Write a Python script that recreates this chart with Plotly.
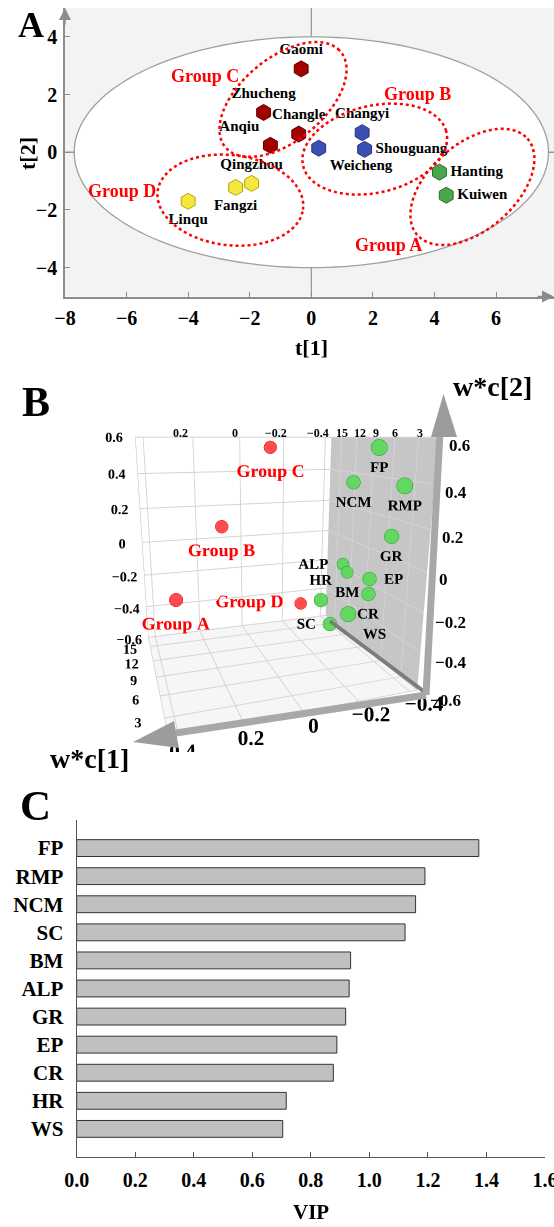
import numpy as np
import plotly.graph_objects as go

FONT = "Liberation Serif"
W, H = 554, 1227

# ---------------- Panel A data (PLS-DA scores) ----------------
sites = ["Gaomi", "Zhucheng", "Changle", "Anqiu", "Weicheng", "Changyi", "Shouguang",
         "Hanting", "Kuiwen", "Qingzhou", "Fangzi", "Linqu"]
t1 = [-0.33, -1.55, -0.41, -1.33, 0.24, 1.65, 1.73, 4.16, 4.38, -1.94, -2.46, -4.00]
t2 = [2.89, 1.38, 0.63, 0.24, 0.14, 0.68, 0.10, -0.69, -1.49, -1.08, -1.22, -1.70]
site_group = ["C", "C", "C", "C", "B", "B", "B", "A", "A", "D", "D", "D"]
site_textpos = ["top center", "top center", "top center", "top left", "bottom right", "top center",
                "middle right", "middle right", "middle right", "top center", "bottom center",
                "bottom center"]

group_names = ["A", "B", "C", "D"]
group_fill = {"A": "#4aa64a", "B": "#3c4fb4", "C": "#a30000", "D": "#f6e83a"}
group_line = {"A": "#2b6e2b", "B": "#27337a", "C": "#5c0000", "D": "#b4a313"}
# group ellipses: centre x, centre y, semi-axis a, semi-axis b, angle (deg)
ell_cx = [5.23, 2.06, -0.92, -2.63]
ell_cy = [-1.20, 0.11, 1.83, -1.66]
ell_a = [2.45, 2.40, 2.50, 2.38]
ell_b = [1.45, 1.50, 1.40, 1.56]
ell_ang = [45, 15, 43, -8]
grp_lab_x = [2.49, 3.45, -3.45, -6.15]
grp_lab_y = [-3.22, 2.03, 2.63, -1.34]
hotelling = (7.7, 4.0)

# ---------------- Panel B data (loadings) ----------------
grp_labels = ["Group A", "Group B", "Group C", "Group D"]
grp_x = [0.315, 0.114, -0.098, -0.245]
grp_y = [14.6, 14.6, 14.6, 14.6]
grp_z = [-0.317, 0.100, 0.545, -0.425]
grp_textpos = ["bottom center", "bottom center", "bottom center", "middle left"]
grp_msize = [16, 15, 15, 14]

var_names = ["FP", "RMP", "NCM", "GR", "EP", "CR", "ALP", "BM", "HR", "WS", "SC"]
var_x = [-0.361, -0.361, -0.361, -0.361, -0.301, -0.301, -0.361, -0.361, -0.258, -0.258, -0.258]
var_y = [5.73, 2.08, 9.51, 3.29, 3.90, 3.94, 10.83, 9.96, 10.50, 5.29, 8.52]
var_z = [0.553, 0.390, 0.364, 0.143, -0.072, -0.150, -0.117, -0.152, -0.316, -0.280, -0.415]
var_textpos = ["bottom center", "bottom center", "bottom center", "bottom center", "middle right",
               "bottom center", "middle left", "bottom center", "top center", "bottom right",
               "middle left"]
var_msize = [19, 19, 16, 17, 16, 16, 14, 14, 16, 18, 16]

# ---------------- Panel C data (VIP) ----------------
vip_vars = ["FP", "RMP", "NCM", "SC", "BM", "ALP", "GR", "EP", "CR", "HR", "WS"]
vip_vals = [1.374, 1.190, 1.158, 1.122, 0.936, 0.931, 0.919, 0.889, 0.877, 0.716, 0.704]


def px(x):
    return x / W


def py(y):
    return 1 - y / H


def note(x, y, text, size, color="black", xanchor="center", angle=0):
    return dict(x=px(x), y=py(y), xref="paper", yref="paper", text="<b>%s</b>" % text,
                showarrow=False, xanchor=xanchor, yanchor="middle", textangle=angle,
                font=dict(family=FONT, size=size, color=color))


fig = go.Figure()

# ---- Panel A traces ----
for g in group_names:
    idx = [i for i, s in enumerate(site_group) if s == g]
    fig.add_trace(go.Scatter(
        x=[t1[i] for i in idx], y=[t2[i] for i in idx],
        text=[sites[i] for i in idx], textposition=[site_textpos[i] for i in idx],
        mode="markers+text",
        marker=dict(symbol="hexagon", size=16, color=group_fill[g],
                    line=dict(color=group_line[g], width=1)),
        textfont=dict(family=FONT, size=15, color="black", weight="bold"),
        xaxis="x", yaxis="y", showlegend=False, cliponaxis=False))

shapes = []
shapes.append(dict(type="rect", xref="x domain", yref="y domain", x0=0, x1=1, y0=0, y1=1,
                   fillcolor="#f3f3f3", line=dict(width=0), layer="below"))
th = np.linspace(0, 2 * np.pi, 181)


def ell_path(cx, cy, a, b, ang):
    r = np.deg2rad(ang)
    xs = cx + a * np.cos(th) * np.cos(r) - b * np.sin(th) * np.sin(r)
    ys = cy + a * np.cos(th) * np.sin(r) + b * np.sin(th) * np.cos(r)
    return "M " + " L ".join(f"{x:.4f},{y:.4f}" for x, y in zip(xs, ys)) + " Z"


shapes.append(dict(type="path", xref="x", yref="y", path=ell_path(0, 0, *hotelling, 0),
                   fillcolor="white", line=dict(color="#a0a0a0", width=1.3), layer="below"))
shapes.append(dict(type="line", xref="x", yref="y domain", x0=0, x1=0, y0=0, y1=1,
                   line=dict(color="#9a9a9a", width=1.3), layer="below"))
shapes.append(dict(type="line", xref="x domain", yref="y", x0=0, x1=1, y0=0, y1=0,
                   line=dict(color="#9a9a9a", width=1.3), layer="below"))
for i in range(4):
    shapes.append(dict(type="path", xref="x", yref="y",
                       path=ell_path(ell_cx[i], ell_cy[i], ell_a[i], ell_b[i], ell_ang[i]),
                       line=dict(color="#ff0000", width=2.5, dash="dot"), layer="above"))

annotations = []
for i in range(4):
    annotations.append(dict(x=grp_lab_x[i], y=grp_lab_y[i], xref="x", yref="y",
                            text="<b>Group %s</b>" % group_names[i], showarrow=False,
                            xanchor="center", yanchor="middle",
                            font=dict(family=FONT, size=18, color="#ff0000")))
annotations.append(dict(x=-8, y=1.0, xref="x", yref="y domain", ax=0, ay=18, text="",
                        showarrow=True, arrowhead=2, arrowsize=1.6, arrowwidth=1.5,
                        arrowcolor="#8c8c8c"))
annotations.append(dict(x=1.0, y=-5, xref="x domain", yref="y", ax=-18, ay=0, text="",
                        showarrow=True, arrowhead=2, arrowsize=1.6, arrowwidth=1.5,
                        arrowcolor="#8c8c8c"))
annotations.append(note(31, 25, "A", 36))
annotations.append(note(311, 347, "t[1]", 22))
annotations.append(note(28, 153, "t[2]", 22, angle=-90))

# ---- Panel B traces ----
fig.add_trace(go.Scatter3d(
    x=grp_x, y=grp_y, z=grp_z, text=grp_labels, textposition=grp_textpos,
    mode="markers+text",
    marker=dict(size=grp_msize, color="#ff0000", line=dict(color="#d00000", width=1)),
    textfont=dict(family=FONT, size=18, color="#ff0000", weight="bold"),
    scene="scene", showlegend=False))
fig.add_trace(go.Scatter3d(
    x=var_x, y=var_y, z=var_z, text=var_names, textposition=var_textpos,
    mode="markers+text",
    marker=dict(size=var_msize, color="#62d862", line=dict(color="#2e9a2e", width=1), opacity=1),
    textfont=dict(family=FONT, size=15, color="black", weight="bold"),
    scene="scene", showlegend=False))


def ax3(size):
    return dict(showbackground=True, gridcolor="#d4d4d4", linecolor="#bdbdbd", showline=True,
                title=dict(text=""), showspikes=False, zeroline=False, ticks="", tickangle=0,
                tickfont=dict(family=FONT, size=size, color="black", weight="bold"))


scene = dict(
    domain=dict(x=[0.0, px(534)], y=[py(751.5), py(358.5)]),
    xaxis=dict(ax3(16), range=[0.43, -0.43], tickvals=[-0.4, -0.2, 0, 0.2, 0.4],
               backgroundcolor="#c6c6c6"),
    yaxis=dict(ax3(13), range=[0.8, 17.2], tickvals=[3, 6, 9, 12, 15], backgroundcolor="white"),
    zaxis=dict(ax3(13), range=[-0.6, 0.6], tickvals=[-0.6, -0.4, -0.2, 0, 0.2, 0.4, 0.6],
               backgroundcolor="#f6f6f6"),
    aspectmode="manual", aspectratio=dict(x=1, y=0.88, z=1),
    camera=dict(eye=dict(x=-0.620, y=-1.908, z=0.5), center=dict(x=0, y=0, z=0),
                up=dict(x=0, y=0, z=1), projection=dict(type="perspective")),
    bgcolor="rgba(0,0,0,0)")

# 3-D axis beams and arrow heads (decoration)
beam = "#a8a8a8"
shapes.append(dict(type="line", xref="paper", yref="paper", x0=px(330), y0=py(621), x1=px(426),
                   y1=py(693), line=dict(color="#7c7c7c", width=4)))
shapes.append(dict(type="line", xref="paper", yref="paper", x0=px(426), y0=py(695), x1=px(176),
                   y1=py(733), line=dict(color=beam, width=7)))
shapes.append(dict(type="line", xref="paper", yref="paper", x0=px(426), y0=py(695), x1=px(440),
                   y1=py(432), line=dict(color=beam, width=7)))
shapes.append(dict(type="path", xref="paper", yref="paper",
                   path=f"M {px(443.5)},{py(394)} L {px(431)},{py(437)} L {px(457)},{py(437)} Z",
                   fillcolor="#9c9c9c", line=dict(width=0)))
shapes.append(dict(type="path", xref="paper", yref="paper",
                   path=f"M {px(133)},{py(742)} L {px(174)},{py(721)} L {px(179)},{py(748)} Z",
                   fillcolor="#9c9c9c", line=dict(width=0)))

# extra tick labels drawn by the original software on the other box edges
rz_text = ["0.6", "0.4", "0.2", "0", "−0.2", "−0.4", "−0.6"]
rz_x = [447, 443, 440, 437, 433, 433, 428]
rz_y = [445, 492, 537, 579, 622, 662, 700]
for t, x, y in zip(rz_text, rz_x, rz_y):
    annotations.append(note(x, y, t, 17, xanchor="left"))
ty_text = ["15", "12", "9", "6", "3"]
ty_x = [342, 360, 376, 395, 420]
for t, x in zip(ty_text, ty_x):
    annotations.append(note(x, 433, t, 12))
tx_text = ["0.2", "0", "−0.2", "−0.4"]
tx_x = [180, 235, 276, 318]
for t, x in zip(tx_text, tx_x):
    annotations.append(note(x, 433, t, 12))

annotations.append(note(36, 402, "B", 42))
annotations.append(note(492, 387, "w*c[2]", 28))
annotations.append(note(89, 758, "w*c[1]", 28))

# ---- Panel C traces ----
fig.add_trace(go.Bar(
    x=vip_vals, y=vip_vars, orientation="h", width=0.6,
    marker=dict(color="#c0c0c0", line=dict(color="#333333", width=1)),
    xaxis="x2", yaxis="y2", showlegend=False))
annotations.append(note(35, 805, "C", 43))
annotations.append(note(311, 1212, "VIP", 21))

tickf = dict(family=FONT, size=20, color="black", weight="bold")
fig.update_layout(
    width=W, height=H, margin=dict(l=0, r=0, t=0, b=0, autoexpand=False),
    paper_bgcolor="white", plot_bgcolor="rgba(0,0,0,0)",
    shapes=shapes, annotations=annotations, scene=scene,
    xaxis=dict(domain=[px(65), 1.0], anchor="y", range=[-8, 7.88],
               tickvals=[-8, -6, -4, -2, 0, 2, 4, 6], automargin=False,
               showgrid=False, zeroline=False, showline=True, linecolor="#8c8c8c", linewidth=1.5,
               ticks="inside", ticklen=5, tickcolor="#8c8c8c", tickfont=tickf,
               ticklabelstandoff=3),
    yaxis=dict(domain=[py(296.5), py(8)], anchor="x", range=[-5, 5], automargin=False,
               tickvals=[-4, -2, 0, 2, 4], showgrid=False, zeroline=False, showline=True,
               linecolor="#8c8c8c", linewidth=1.5, ticks="inside", ticklen=5, tickcolor="#8c8c8c",
               tickfont=tickf, ticklabelstandoff=2),
    xaxis2=dict(domain=[px(76.7), px(545)], anchor="y2", range=[0, 1.6002],
                tickvals=[0, 0.2, 0.4, 0.6, 0.8, 1.0, 1.2, 1.4, 1.6], ticklabeloverflow="allow",
                tickformat=".1f", automargin=False, showgrid=False, zeroline=False, showline=True,
                linecolor="#555555", linewidth=1.2, ticks="inside", ticklen=5, tickcolor="#555555",
                tickfont=tickf, ticklabelstandoff=5),
    yaxis2=dict(domain=[py(1156.7), py(820)], anchor="x2", range=[10.99, -1], automargin=False,
                showgrid=False, zeroline=False, showline=True, linecolor="#555555", linewidth=1.2,
                ticks="", tickfont=dict(tickf, size=21), ticklabelstandoff=8),
)

fig.write_html("out.html", config={"displayModeBar": False},
               post_script="document.body.style.margin='0px';")
